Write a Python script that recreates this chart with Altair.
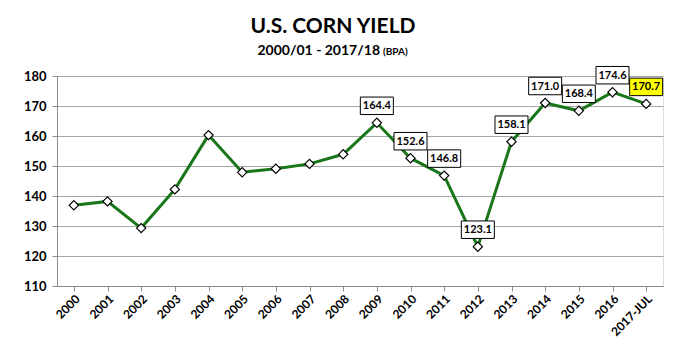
import altair as alt
import pandas as pd

years = ["2000", "2001", "2002", "2003", "2004", "2005", "2006", "2007", "2008",
         "2009", "2010", "2011", "2012", "2013", "2014", "2015", "2016", "2017-JUL"]
yields = [136.9, 138.2, 129.3, 142.2, 160.3, 147.9, 149.1, 150.7, 153.9,
          164.4, 152.6, 146.8, 123.1, 158.1, 171.0, 168.4, 174.6, 170.7]
labelled = [False] * 9 + [True] * 9
highlight = [False] * 17 + [True]

df = pd.DataFrame({"year": years, "yield": yields, "lab": labelled, "hl": highlight})
df["txt"] = df["yield"].map(lambda v: f"{v:.1f}")
df["boxfill"] = df["hl"].map(lambda h: "#ffff00" if h else "#ffffff")

FONT = "Lato"
GREEN = "#1a761a"

x = alt.X("year:N", sort=years, title=None,
          scale=alt.Scale(paddingInner=0, paddingOuter=0),
          axis=alt.Axis(labelAngle=-45, labelAlign="right", labelBaseline="top",
                        labelFont=FONT, labelFontWeight="bold", labelFontSize=12,
                        labelColor="#000000", domainColor="#8c8c8c", tickColor="#8c8c8c",
                        bandPosition=0, tickSize=5, labelPadding=2, grid=False))
y = alt.Y("yield:Q", title=None,
          scale=alt.Scale(domain=[110, 180], nice=False, zero=False),
          axis=alt.Axis(values=list(range(110, 181, 10)), labelFont=FONT,
                        labelFontWeight="bold", labelFontSize=13, labelColor="#000000",
                        domainColor="#8c8c8c", tickColor="#8c8c8c", tickSize=5,
                        gridColor="#a6a6a6", gridWidth=1, labelPadding=6))

base = alt.Chart(df)

line = base.mark_line(color=GREEN, strokeWidth=3).encode(x=x, y=y)
pts = base.mark_point(shape="diamond", filled=True, fill="#ffffff", stroke="#000000",
                      strokeWidth=1.2, size=85, opacity=1).encode(x=x, y=y)

box_shape = "M-1,-0.53 L1,-0.53 L1,0.53 L-1,0.53 Z"
boxes = base.transform_filter("datum.lab").mark_point(
    shape=box_shape, filled=True, stroke="#000000", strokeWidth=1, size=1089,
    opacity=1, yOffset=-17).encode(
    x=x, y=y, fill=alt.Fill("boxfill:N", scale=None))
texts = base.transform_filter("datum.lab").mark_text(
    font=FONT, fontWeight="bold", fontSize=11, color="#000000", yOffset=-16.5,
    baseline="middle").encode(x=x, y=y, text="txt:N")

title = alt.Chart(pd.DataFrame({"t": ["U.S. CORN YIELD"]})).mark_text(
    font=FONT, fontWeight="bold", fontSize=21, align="center", baseline="alphabetic",
    color="#000000").encode(x=alt.value(276), y=alt.value(-43), text="t:N")
sub1 = alt.Chart(pd.DataFrame({"t": ["2000/01 - 2017/18"]})).mark_text(
    font=FONT, fontWeight="bold", fontSize=14, align="right", baseline="alphabetic",
    color="#000000").encode(x=alt.value(323), y=alt.value(-21), text="t:N")
sub2 = alt.Chart(pd.DataFrame({"t": ["(BPA)"]})).mark_text(
    font=FONT, fontWeight="bold", fontSize=10, align="left", baseline="alphabetic",
    color="#000000").encode(x=alt.value(326), y=alt.value(-21), text="t:N")

chart = alt.layer(line, pts, boxes, texts, title, sub1, sub2).properties(
    width=606, height=210,
    autosize=alt.AutoSizeParams(type="none"),
    padding={"left": 49, "top": 68, "right": 4, "bottom": 64},
).configure_view(stroke=None).configure(background="#ffffff")

chart.save("out.html", embed_options={"renderer": "svg", "actions": False})
